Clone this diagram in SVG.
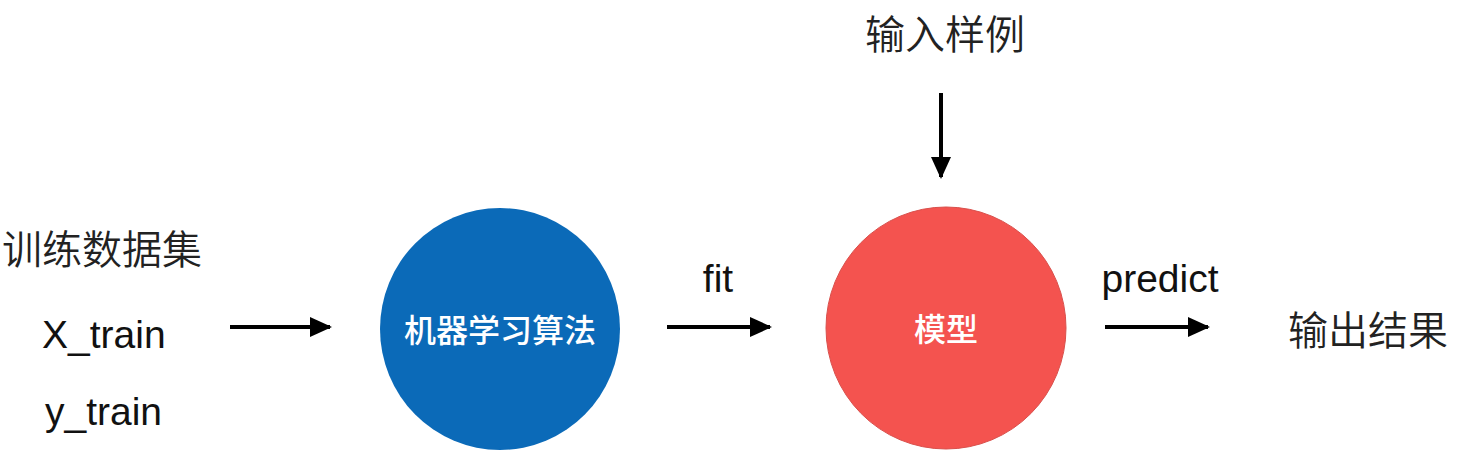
<svg xmlns="http://www.w3.org/2000/svg" width="1458" height="450" viewBox="0 0 1458 450">
<defs>
<marker id="ah" markerWidth="5.5" markerHeight="5" refX="5" refY="2.5" orient="auto" markerUnits="strokeWidth">
<path d="M0,0 L5.5,2.5 L0,5 Z" fill="#000"/>
</marker>
<style>
.cjk{font-family:"Noto Sans CJK SC","Noto Sans CJK JP",sans-serif;font-size:40px;fill:#222;font-weight:350}
.lat{font-family:"Liberation Sans",Arial,sans-serif;font-size:39px;fill:#111}
.in{font-family:"Noto Sans CJK SC","Noto Sans CJK JP",sans-serif;font-size:32px;fill:#fff;font-weight:500}
.conn line{stroke:#000;stroke-width:4;marker-end:url(#ah)}
</style>
</defs>
<rect width="1458" height="450" fill="#fff"/>
<g id="dataset">
<text class="cjk" x="2" y="247" dominant-baseline="central">训练数据集</text>
<text class="lat" x="42" y="348">X_train</text>
<text class="lat" x="45" y="425">y_train</text>
</g>
<g id="algorithm">
<ellipse cx="500" cy="329" rx="120" ry="121" fill="#0B6AB8"/>
<text class="in" x="500" y="328" text-anchor="middle" dominant-baseline="central">机器学习算法</text>
</g>
<g id="model">
<ellipse cx="946" cy="328" rx="120" ry="121" fill="#F4534F" stroke="#d9504c" stroke-width="1"/>
<text class="in" x="946" y="327" text-anchor="middle" dominant-baseline="central">模型</text>
</g>
<g id="input">
<text class="cjk" x="945" y="32" text-anchor="middle" dominant-baseline="central">输入样例</text>
</g>
<g id="output">
<text class="cjk" x="1288" y="328" dominant-baseline="central">输出结果</text>
</g>
<g id="labels">
<text class="lat" x="718" y="292" text-anchor="middle">fit</text>
<text class="lat" x="1160" y="292" text-anchor="middle">predict</text>
</g>
<g class="conn" id="connectors">
<line x1="230" y1="327" x2="330" y2="327"/>
<line x1="667" y1="327" x2="770" y2="327"/>
<line x1="941" y1="93" x2="941" y2="177"/>
<line x1="1105" y1="327" x2="1208" y2="327"/>
</g>
</svg>
